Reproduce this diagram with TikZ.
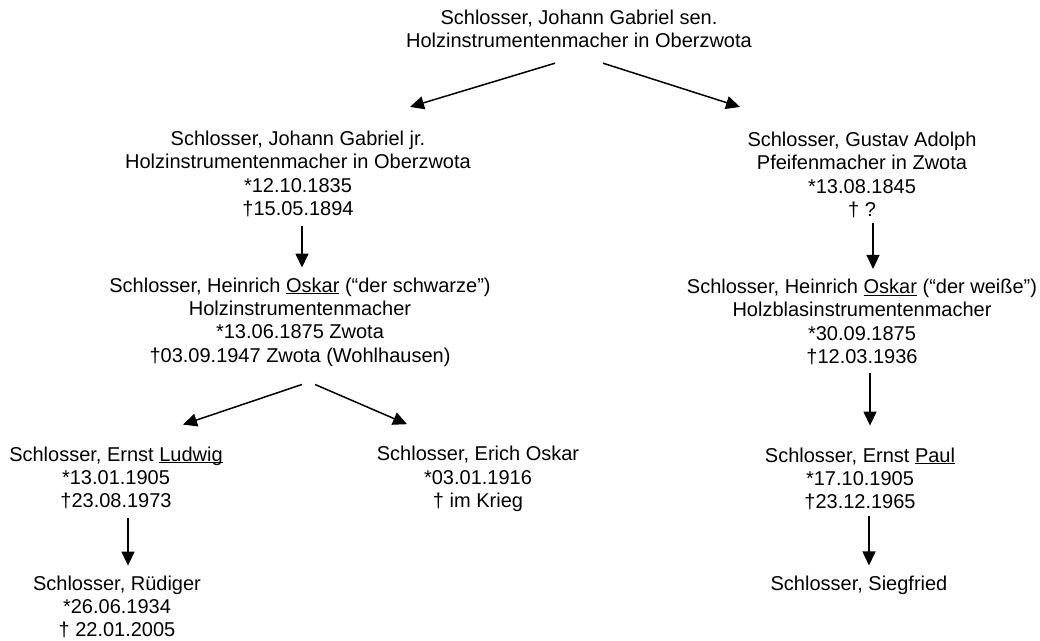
\documentclass[tikz,border=0pt]{standalone}
\usepackage{fontspec}
\setmainfont{Liberation Sans}
\usetikzlibrary{arrows.meta,calc}
\newcommand\nameul[1]{\underline{\smash{#1}}}
\begin{document}
\begin{tikzpicture}[x=1pt,y=-1pt,
  person/.style={font=\fontsize{20}{23.3}\selectfont, align=center, inner sep=0pt, text=black},
  arr/.style={line width=1.5pt, -{Triangle[length=14pt,width=13pt]}}]
\useasboundingbox (0,0) rectangle (1040,640);
\node[person] (top) at (579,29) {Schlosser, Johann Gabriel sen.\\Holzinstrumentenmacher in Oberzwota};
\node[person] (jr) at (298,174) {Schlosser, Johann Gabriel jr.\\Holzinstrumentenmacher in Oberzwota\\*12.10.1835\\†15.05.1894};
\node[person] (ga) at (862,175) {Schlosser, Gustav Adolph\\Pfeifenmacher in Zwota\\*13.08.1845\\† ?};
\node[person] (hs) at (300,322) {Schlosser, Heinrich \nameul{Oskar} (“der schwarze”)\\Holzinstrumentenmacher\\*13.06.1875 Zwota\\†03.09.1947 Zwota (Wohlhausen)};
\node[person] (hw) at (862,322) {Schlosser, Heinrich \nameul{Oskar} (“der weiße”)\\Holzblasinstrumentenmacher\\*30.09.1875\\†12.03.1936};
\node[person] (el) at (116,478) {Schlosser, Ernst \nameul{Ludwig}\\*13.01.1905\\†23.08.1973};
\node[person] (eo) at (478,479) {Schlosser, Erich Oskar\\*03.01.1916\\† im Krieg};
\node[person] (ep) at (860,479) {Schlosser, Ernst \nameul{Paul}\\*17.10.1905\\†23.12.1965};
\node[person] (rd) at (117,607) {Schlosser, Rüdiger\\*26.06.1934\\† 22.01.2005};
\node[person] (sg) at (859,585) {Schlosser, Siegfried};

\draw[arr] ($(top.south)+(-24,15)$) -- ($(jr.north)+(112,-24)$);
\draw[arr] ($(top.south)+(24,15)$) -- ($(ga.north)+(-122,-25)$);
\draw[arr] ($(jr.south)+(4,9)$) -- ($(jr.south |- hs.north)+(4,-10)$);
\draw[arr] ($(ga.south)+(11,5)$) -- ($(ga.south |- hw.north)+(11,-10)$);
\draw[arr] ($(hs.south)+(2,18)$) -- ($(el.north)+(67,-22)$);
\draw[arr] ($(hs.south)+(15,18)$) -- ($(eo.north)+(-71,-22)$);
\draw[arr] ($(hw.south)+(8,8)$) -- ($(hw.south |- ep.north)+(8,-22)$);
\draw[arr] ($(ep.south)+(9,6)$) -- ($(ep.south |- sg.north)+(9,-10)$);
\draw[arr] ($(el.south)+(12,9)$) -- ($(el.south |- rd.north)+(12,-10)$);
\end{tikzpicture}
\end{document}
